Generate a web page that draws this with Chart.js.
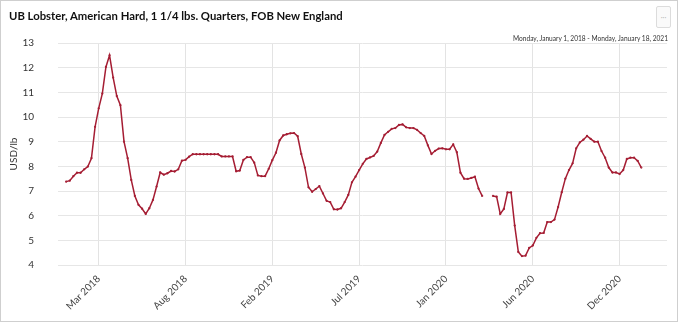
<!DOCTYPE html>
<html>
<head>
<meta charset="utf-8">
<title>UB Lobster, American Hard</title>
<script src="https://cdn.jsdelivr.net/npm/chart.js@4.4.1/dist/chart.umd.min.js"></script>
<style>
    html, body { margin: 0; padding: 0; background: #fff; }
    #wrap {
        position: relative;
        width: 678px;
        height: 322px;
        box-shadow: inset 0 0 0 1px #cfcfcf;
        font-family: Lato, "Open Sans", sans-serif;
    }
    #titulo {
        position: absolute;
        left: 9px;
        top: 9px;
        font-size: 11.3px;
        font-weight: bold;
        color: #111;
        white-space: nowrap;
    }
    #rango {
        position: absolute;
        right: 10px;
        top: 34px;
        font-size: 6.6px;
        color: #333;
        white-space: nowrap;
    }
    #menu {
        position: absolute;
        left: 656px;
        top: 6px;
        width: 15px;
        height: 22px;
        box-sizing: border-box;
        border: 1px solid #dcdcdc;
        border-radius: 2px;
        background: #fafafa;
        color: #bbb;
        font-size: 7px;
        line-height: 20px;
        text-align: center;
    }
    #grafico { position: absolute; left: 0; top: 0; }
</style>
</head>
<body>
<div id="wrap">
    <canvas id="grafico" width="678" height="322"></canvas>
    <div id="titulo">UB Lobster, American Hard, 1 1/4 lbs. Quarters, FOB New England</div>
    <div id="rango">Monday, January 1, 2018 - Monday, January 18, 2021</div>
    <div id="menu">···</div>
</div>
<script>
// Precio semanal (USD/lb), semana 0 = lunes 1 de enero de 2018
const semanaInicial = '2018-01-01';
const precios = [
    7.38, 7.42, 7.60, 7.74, 7.74, 7.88, 7.99, 8.33, 9.60, 10.35,
    10.95, 12.03, 12.50, 11.60, 10.85, 10.48, 9.00, 8.33, 7.45, 6.80,
    6.44, 6.28, 6.07, 6.30, 6.64, 7.18, 7.75, 7.66, 7.72, 7.81,
    7.79, 7.88, 8.23, 8.26, 8.39, 8.49, 8.49, 8.49, 8.49, 8.49,
    8.49, 8.49, 8.49, 8.40, 8.40, 8.40, 8.40, 7.80, 7.83, 8.26,
    8.37, 8.37, 8.15, 7.63, 7.60, 7.60, 7.90, 8.25, 8.55, 9.05,
    9.25, 9.30, 9.34, 9.35, 9.22, 8.50, 7.95, 7.15, 6.97, 7.08,
    7.20, 6.90, 6.60, 6.55, 6.26, 6.25, 6.30, 6.55, 6.84, 7.35,
    7.58, 7.85, 8.10, 8.30, 8.36, 8.42, 8.60, 8.95, 9.27, 9.40,
    9.52, 9.55, 9.68, 9.70, 9.58, 9.55, 9.55, 9.48, 9.35, 9.23,
    8.85, 8.50, 8.63, 8.72, 8.73, 8.69, 8.69, 8.89, 8.57, 7.74,
    7.50, 7.49, 7.53, 7.58, 7.10, 6.80, null, null, 6.80, 6.77,
    6.07, 6.27, 6.94, 6.94, 5.60, 4.53, 4.36, 4.38, 4.69, 4.79,
    5.10, 5.29, 5.30, 5.74, 5.74, 5.84, 6.35, 6.95, 7.50, 7.85,
    8.12, 8.73, 8.97, 9.08, 9.23, 9.11, 9.00, 9.00, 8.62, 8.35,
    7.95, 7.75, 7.75, 7.69, 7.85, 8.30, 8.35, 8.35, 8.22, 7.95
];

// Marcas del eje X: cada 24 semanas a partir de la semana 9
const semanasEtiqueta = [9, 33, 57, 81, 105, 129, 153];
const etiquetasX = ['Mar 2018', 'Aug 2018', 'Feb 2019', 'Jul 2019', 'Jan 2020', 'Jun 2020', 'Dec 2020'];

const valoresY = [4, 5, 6, 7, 8, 9, 10, 11, 12, 13];

const puntos = precios.map((v, i) => ({ x: i, y: v }));

const ctx = document.getElementById('grafico');

window.graficoLangosta = new Chart(ctx, {
    type: 'line',
    data: {
        datasets: [{
            label: 'UB Lobster',
            data: puntos,
            borderColor: '#a51d33',
            backgroundColor: '#a51d33',
            borderWidth: 1.5,
            pointRadius: 0.4,
            pointHoverRadius: 3,
            tension: 0,
            spanGaps: false
        }]
    },
    options: {
        responsive: false,
        animation: false,
        layout: {
            padding: { top: 43, right: 11, bottom: 0, left: 0 }
        },
        plugins: {
            legend: { display: false },
            tooltip: { enabled: false }
        },
        scales: {
            x: {
                type: 'linear',
                min: -2.25,
                max: 166.1,
                afterBuildTicks: (eje) => {
                    eje.ticks = semanasEtiqueta.map(v => ({ value: v }));
                },
                afterFit: (eje) => { eje.height = 57; },
                ticks: {
                    autoSkip: false,
                    maxRotation: 45,
                    minRotation: 45,
                    padding: 8,
                    color: '#444',
                    font: { family: 'Lato', size: 10 },
                    callback: (valor) => {
                        const k = semanasEtiqueta.indexOf(valor);
                        return k >= 0 ? etiquetasX[k] : '';
                    }
                },
                grid: {
                    color: '#e3e3e3',
                    drawTicks: false
                },
                border: { display: false }
            },
            y: {
                min: valoresY[0],
                max: valoresY[valoresY.length - 1],
                afterBuildTicks: (eje) => {
                    eje.ticks = valoresY.map(v => ({ value: v }));
                },
                afterFit: (eje) => { eje.width = 58; },
                ticks: {
                    padding: 24,
                    color: '#333',
                    font: { family: 'Lato', size: 10 }
                },
                title: {
                    display: true,
                    text: 'USD/lb',
                    color: '#333',
                    font: { family: 'Lato', size: 10 },
                    padding: { top: 8, bottom: 0 }
                },
                grid: {
                    color: '#e6e6e6',
                    drawTicks: false
                },
                border: { display: false }
            }
        }
    }
});
</script>
</body>
</html>
